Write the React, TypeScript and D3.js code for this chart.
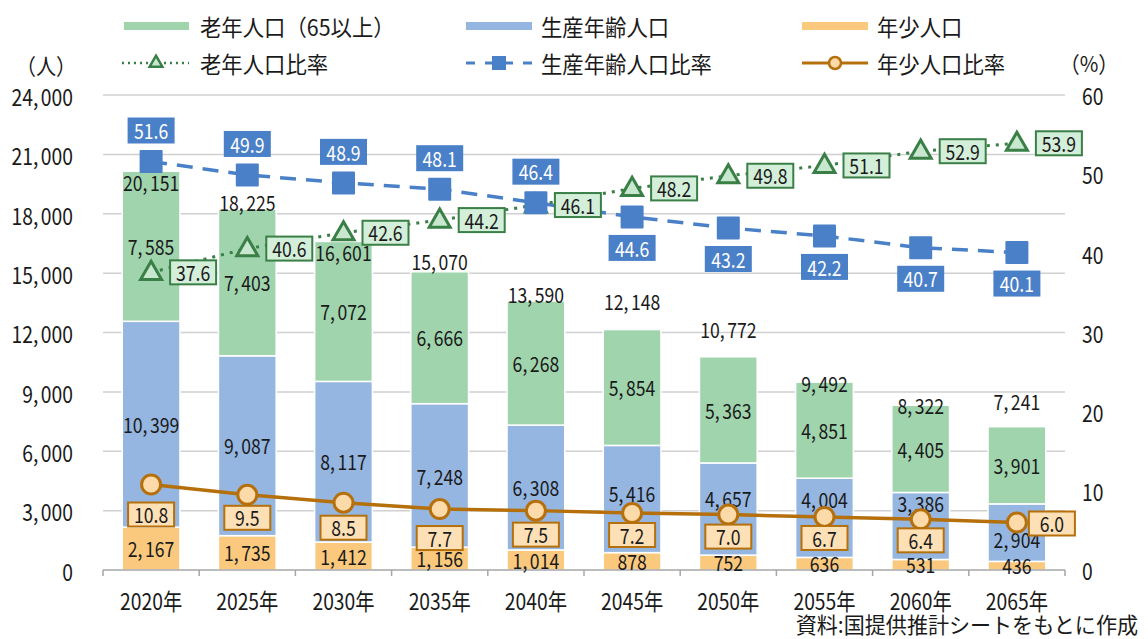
import React from "react";
import * as d3 from "d3";

// 年次
const years = ["2020年", "2025年", "2030年", "2035年", "2040年", "2045年", "2050年", "2055年", "2060年", "2065年"];
// 人口（人）
const young = [2167, 1735, 1412, 1156, 1014, 878, 752, 636, 531, 436];
const working = [10399, 9087, 8117, 7248, 6308, 5416, 4657, 4004, 3386, 2904];
const elderly = [7585, 7403, 7072, 6666, 6268, 5854, 5363, 4851, 4405, 3901];
const totals = [20151, 18225, 16601, 15070, 13590, 12148, 10772, 9492, 8322, 7241];
// 比率（%）
const elderlyRatio = [37.6, 40.6, 42.6, 44.2, 46.1, 48.2, 49.8, 51.1, 52.9, 53.9];
const workingRatio = [51.6, 49.9, 48.9, 48.1, 46.4, 44.6, 43.2, 42.2, 40.7, 40.1];
const youngRatio = [10.8, 9.5, 8.5, 7.7, 7.5, 7.2, 7.0, 6.7, 6.4, 6.0];
// 軸目盛
const leftTicks = [0, 3000, 6000, 9000, 12000, 15000, 18000, 21000, 24000];
const rightTicks = [0, 10, 20, 30, 40, 50, 60];

// ラベルの位置調整（手で動かされたもの）
const totalDy = [11, -7, 11, -10, -7, -28, -27, 1, 0, -25];
const workingDy = [0, 0, 0, 1, 0, -6, -11, -18, -23, 7];
const workingRatioSide = [-1, -1, -1, -1, -1, 1, 1, 1, 1, 1];
const youngRatioDy = [30, 23, 25, 29, 24, 22, 22, 21, 21, 1];

const FONT = '"Noto Sans CJK JP", "Noto Sans", sans-serif';
const SX = 0.84;

const C = {
  elderly: "#a0d4ad",
  working: "#95b6e0",
  young: "#fac97d",
  blue: "#4a80c8",
  green: "#3a7f46",
  greenFill: "#c8e7cf",
  greenBox: "#d3eed9",
  orange: "#b5700c",
  orangeFill: "#fddaa9",
  orangeBox: "#fde0b5",
  grid: "#d0d0d0",
  text: "#1a1a1a",
};

const fmt = d3.format(",");

function Txt(props: any) {
  const { x, y, size, anchor = "middle", fill = C.text, sx = SX, children } = props;
  return (
    <text
      transform={`translate(${x},${y}) scale(${sx},1)`}
      fontSize={size}
      textAnchor={anchor}
      dominantBaseline="central"
      fill={fill}
      fontFamily={FONT}
    >
      {children}
    </text>
  );
}

function Num(props: any) {
  const { value, ...rest } = props;
  const parts = fmt(value).split(",");
  return (
    <Txt {...rest}>
      {parts.map((p: string, i: number) => (
        <tspan key={i} dx={i > 0 ? 3 : undefined}>
          {p}
          {i < parts.length - 1 ? "," : ""}
        </tspan>
      ))}
    </Txt>
  );
}

export default function App() {
  const W = 1148;
  const H = 639;
  const left = 103;
  const right = 1065;
  const top = 95;
  const bottom = 570;

  const x = d3.scaleBand<string>().domain(years).range([left, right]).paddingInner(0.4).paddingOuter(0.2);
  const yL = d3.scaleLinear().domain([0, 24000]).range([bottom, top]);
  const yR = d3.scaleLinear().domain([0, 60]).range([bottom, top]);
  const cx = (i: number) => (x(years[i]) as number) + x.bandwidth() / 2;
  const step = x.step();

  const line = d3
    .line<number>()
    .x((_, i) => cx(i))
    .y((d) => yR(d));

  const tri = d3.symbol().type(d3.symbolTriangle).size(190)() as string;
  const triSmall = d3.symbol().type(d3.symbolTriangle).size(70)() as string;

  const bars = years.map((yr, i) => {
    const y0 = young[i];
    const y1 = y0 + working[i];
    const y2 = y1 + elderly[i];
    return { yr, i, y0, y1, y2 };
  });

  const LG = 22.5;
  const LSX = 0.95;

  return (
    <svg width={W} height={H} style={{ position: "absolute", left: 0, top: 0, background: "#fff" }}>
      {/* gridlines */}
      {leftTicks.slice(1).map((t) => (
        <line key={t} x1={left} x2={right} y1={yL(t)} y2={yL(t)} stroke={C.grid} strokeWidth={1.5} />
      ))}

      {/* left axis labels */}
      {leftTicks.map((t) => (
        <Num key={t} value={t} x={73} y={yL(t)} size={23} anchor="end" />
      ))}
      <Txt x={46} y={64} size={22} sx={0.92}>（人）</Txt>

      {/* right axis labels */}
      {rightTicks.map((t) => (
        <Txt key={t} x={1082} y={yR(t)} size={23} anchor="start">
          {t}
        </Txt>
      ))}
      <Txt x={1089} y={62} size={22} sx={0.92}>（%）</Txt>

      {/* stacked bars */}
      {bars.map((b) => (
        <g key={b.yr}>
          <rect x={x(b.yr)} y={yL(b.y0)} width={x.bandwidth()} height={yL(0) - yL(b.y0)} fill={C.young} stroke="#fff" strokeWidth={1.5} />
          <rect x={x(b.yr)} y={yL(b.y1)} width={x.bandwidth()} height={yL(b.y0) - yL(b.y1)} fill={C.working} stroke="#fff" strokeWidth={1.5} />
          <rect x={x(b.yr)} y={yL(b.y2)} width={x.bandwidth()} height={yL(b.y1) - yL(b.y2)} fill={C.elderly} stroke="#fff" strokeWidth={1.5} />
        </g>
      ))}

      {/* x axis */}
      <line x1={left} x2={right} y1={bottom} y2={bottom} stroke="#a6a6a6" strokeWidth={1.5} />
      {d3.range(years.length + 1).map((k) => (
        <line key={k} x1={left + k * step} x2={left + k * step} y1={bottom} y2={bottom + 6} stroke="#a6a6a6" strokeWidth={1.5} />
      ))}
      {years.map((yr, i) => (
        <Txt key={yr} x={cx(i)} y={600} size={23}>
          {yr}
        </Txt>
      ))}

      {/* segment labels */}
      {bars.map((b) => (
        <g key={"l" + b.yr}>
          <Num value={young[b.i]} x={cx(b.i)} y={(yL(0) + yL(b.y0)) / 2} size={21} />
          <Num value={working[b.i]} x={cx(b.i)} y={(yL(b.y0) + yL(b.y1)) / 2 + workingDy[b.i]} size={21} />
          <Num value={elderly[b.i]} x={cx(b.i)} y={(yL(b.y1) + yL(b.y2)) / 2} size={21} />
          <Num value={totals[b.i]} x={cx(b.i)} y={yL(totals[b.i]) + totalDy[b.i]} size={21} />
        </g>
      ))}

      {/* ratio lines */}
      <path d={line(youngRatio) as string} fill="none" stroke={C.orange} strokeWidth={3.5} />
      <path d={line(workingRatio) as string} fill="none" stroke={C.blue} strokeWidth={3.5} strokeDasharray="16 10" />
      <path d={line(elderlyRatio) as string} fill="none" stroke={C.green} strokeWidth={3} strokeDasharray="3 6" />

      {/* markers */}
      {youngRatio.map((v, i) => (
        <circle key={"c" + i} cx={cx(i)} cy={yR(v)} r={9.5} fill={C.orangeFill} stroke={C.orange} strokeWidth={3} />
      ))}
      {elderlyRatio.map((v, i) => (
        <path key={"t" + i} d={tri} transform={`translate(${cx(i)},${yR(v) + 1})`} fill={C.greenFill} stroke={C.green} strokeWidth={3} />
      ))}
      {workingRatio.map((v, i) => (
        <rect key={"s" + i} x={cx(i) - 11.5} y={yR(v) - 11.5} width={23} height={23} fill={C.blue} rx={1} />
      ))}

      {/* ratio labels */}
      {youngRatio.map((v, i) => {
        const last = i === youngRatio.length - 1;
        const bx = last ? cx(i) + 35 : cx(i);
        const by = yR(v) + youngRatioDy[i];
        return (
          <g key={"yl" + i}>
            <rect x={bx - 23} y={by - 12} width={46} height={24} fill={C.orangeBox} stroke={C.orange} strokeWidth={2} />
            <Txt x={bx} y={by} size={21}>{v.toFixed(1)}</Txt>
          </g>
        );
      })}
      {elderlyRatio.map((v, i) => {
        const bx = cx(i) + 42;
        const by = yR(v);
        return (
          <g key={"el" + i}>
            <rect x={bx - 23} y={by - 12} width={46} height={24} fill={C.greenBox} stroke={C.green} strokeWidth={2} />
            <Txt x={bx} y={by} size={21}>{v.toFixed(1)}</Txt>
          </g>
        );
      })}
      {workingRatio.map((v, i) => {
        const bx = cx(i);
        const by = yR(v) + workingRatioSide[i] * 31;
        return (
          <g key={"wl" + i}>
            <rect x={bx - 23.5} y={by - 13} width={47} height={26} fill={C.blue} />
            <Txt x={bx} y={by} size={21} fill="#fff">{v.toFixed(1)}</Txt>
          </g>
        );
      })}

      {/* legend */}
      <g>
        <line x1={124} x2={189} y1={26} y2={26} stroke={C.elderly} strokeWidth={8} />
        <Txt x={200} y={26} size={LG} sx={LSX} anchor="start">老年人口（65以上）</Txt>
        <line x1={466} x2={532} y1={26} y2={26} stroke={C.working} strokeWidth={8} />
        <Txt x={541} y={26} size={LG} sx={LSX} anchor="start">生産年齢人口</Txt>
        <line x1={802} x2={868} y1={26} y2={26} stroke={C.young} strokeWidth={8} />
        <Txt x={877} y={26} size={LG} sx={LSX} anchor="start">年少人口</Txt>

        <line x1={122} x2={189} y1={63} y2={63} stroke={C.green} strokeWidth={2.5} strokeDasharray="2 4" />
        <path d={triSmall} transform="translate(156,63)" fill={C.greenFill} stroke={C.green} strokeWidth={2.5} />
        <Txt x={200} y={63} size={LG} sx={LSX} anchor="start">老年人口比率</Txt>
        <line x1={466} x2={532} y1={63} y2={63} stroke={C.blue} strokeWidth={3} strokeDasharray="9 10" />
        <rect x={492} y={56} width={14} height={14} fill={C.blue} />
        <Txt x={541} y={63} size={LG} sx={LSX} anchor="start">生産年齢人口比率</Txt>
        <line x1={802} x2={868} y1={63} y2={63} stroke={C.orange} strokeWidth={3} />
        <circle cx={835} cy={63} r={6} fill={C.orangeFill} stroke={C.orange} strokeWidth={2.5} />
        <Txt x={877} y={63} size={LG} sx={LSX} anchor="start">年少人口比率</Txt>
      </g>

      {/* source */}
      <Txt x={1138} y={623} size={21.5} anchor="end" sx={0.98}>資料:国提供推計シートをもとに作成</Txt>
    </svg>
  );
}
